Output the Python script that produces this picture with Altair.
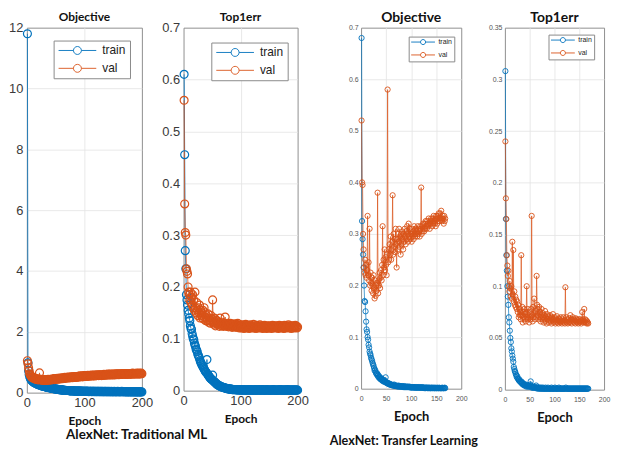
import altair as alt
import pandas as pd

# ---------------- data ----------------
series_names = ["train", "val"]
series_colors = ["#0072BD", "#D95319"]

# AlexNet: Traditional ML -- Objective
trad_obj_train = [
    11.8, 0.98, 0.72, 0.6, 0.52, 0.47, 0.44, 0.41, 0.39, 0.37,
    0.35, 0.34, 0.33, 0.32, 0.31, 0.3, 0.29, 0.28, 0.27, 0.26,
    0.26, 0.25, 0.24, 0.24, 0.23, 0.22, 0.22, 0.21, 0.21, 0.2,
    0.2, 0.19, 0.19, 0.18, 0.18, 0.17, 0.17, 0.16, 0.16, 0.16,
    0.15, 0.15, 0.14, 0.14, 0.14, 0.13, 0.13, 0.13, 0.12, 0.12,
    0.12, 0.11, 0.11, 0.11, 0.1, 0.1, 0.1, 0.1, 0.09, 0.09,
    0.09, 0.09, 0.08, 0.08, 0.08, 0.08, 0.08, 0.07, 0.07, 0.07,
    0.07, 0.07, 0.07, 0.06, 0.06, 0.06, 0.06, 0.06, 0.06, 0.06,
    0.06, 0.05, 0.05, 0.05, 0.05, 0.05, 0.05, 0.05, 0.05, 0.05,
    0.05, 0.05, 0.05, 0.04, 0.05, 0.04, 0.04, 0.05, 0.04, 0.04,
    0.04, 0.04, 0.04, 0.05, 0.04, 0.04, 0.04, 0.03, 0.04, 0.04,
    0.04, 0.04, 0.03, 0.04, 0.04, 0.04, 0.03, 0.04, 0.04, 0.03,
    0.04, 0.03, 0.04, 0.04, 0.03, 0.04, 0.03, 0.04, 0.03, 0.04,
    0.03, 0.04, 0.03, 0.03, 0.04, 0.03, 0.04, 0.03, 0.03, 0.04,
    0.03, 0.03, 0.04, 0.03, 0.03, 0.03, 0.04, 0.03, 0.03, 0.03,
    0.03, 0.04, 0.03, 0.03, 0.03, 0.03, 0.03, 0.04, 0.03, 0.03,
    0.03, 0.03, 0.03, 0.03, 0.04, 0.03, 0.03, 0.03, 0.03, 0.03,
    0.03, 0.03, 0.03, 0.02, 0.03, 0.03, 0.03, 0.03, 0.02, 0.03,
    0.03, 0.03, 0.02, 0.03, 0.03, 0.03, 0.02, 0.03, 0.03, 0.02,
    0.03, 0.03, 0.02, 0.03, 0.02, 0.03, 0.03, 0.02, 0.03, 0.02,
]
trad_obj_val = [
    1.05, 0.95, 0.82, 0.72, 0.62, 0.58, 0.55, 0.52, 0.5, 0.49,
    0.48, 0.5, 0.46, 0.47, 0.45, 0.44, 0.46, 0.43, 0.44, 0.42,
    0.45, 0.65, 0.43, 0.42, 0.44, 0.41, 0.43, 0.42, 0.4, 0.43,
    0.41, 0.42, 0.4, 0.43, 0.41, 0.42, 0.44, 0.41, 0.43, 0.42,
    0.44, 0.43, 0.42, 0.45, 0.43, 0.44, 0.46, 0.43, 0.45, 0.44,
    0.46, 0.45, 0.47, 0.44, 0.46, 0.47, 0.45, 0.48, 0.46, 0.47,
    0.48, 0.46, 0.49, 0.47, 0.48, 0.5, 0.47, 0.49, 0.48, 0.5,
    0.49, 0.51, 0.48, 0.5, 0.49, 0.51, 0.5, 0.52, 0.49, 0.51,
    0.52, 0.5, 0.53, 0.51, 0.52, 0.5, 0.53, 0.52, 0.54, 0.51,
    0.53, 0.55, 0.52, 0.54, 0.53, 0.55, 0.52, 0.54, 0.56, 0.53,
    0.55, 0.54, 0.56, 0.53, 0.55, 0.57, 0.54, 0.56, 0.55, 0.57,
    0.55, 0.56, 0.58, 0.55, 0.57, 0.56, 0.58, 0.55, 0.57, 0.58,
    0.56, 0.58, 0.57, 0.59, 0.56, 0.58, 0.57, 0.59, 0.58, 0.56,
    0.59, 0.57, 0.58, 0.6, 0.57, 0.59, 0.58, 0.6, 0.58, 0.59,
    0.61, 0.58, 0.6, 0.59, 0.61, 0.58, 0.6, 0.59, 0.61, 0.6,
    0.58, 0.61, 0.59, 0.6, 0.62, 0.59, 0.61, 0.6, 0.62, 0.59,
    0.61, 0.6, 0.62, 0.6, 0.61, 0.63, 0.6, 0.62, 0.61, 0.63,
    0.6, 0.62, 0.61, 0.63, 0.6, 0.62, 0.61, 0.63, 0.62, 0.6,
    0.63, 0.61, 0.62, 0.64, 0.61, 0.63, 0.62, 0.61, 0.63, 0.62,
    0.64, 0.61, 0.63, 0.62, 0.64, 0.61, 0.63, 0.62, 0.64, 0.62,
]

# AlexNet: Traditional ML -- Top1err
trad_err_train = [
    0.61, 0.455, 0.27, 0.235, 0.185, 0.175, 0.165, 0.155, 0.148, 0.14,
    0.135, 0.125, 0.12, 0.118, 0.11, 0.105, 0.1, 0.098, 0.092, 0.088,
    0.085, 0.08, 0.078, 0.075, 0.07, 0.068, 0.065, 0.062, 0.058, 0.055,
    0.053, 0.05, 0.048, 0.046, 0.044, 0.042, 0.04, 0.038, 0.036, 0.035,
    0.06, 0.032, 0.03, 0.029, 0.027, 0.026, 0.024, 0.023, 0.022, 0.021,
    0.03, 0.019, 0.018, 0.017, 0.016, 0.015, 0.014, 0.013, 0.012, 0.011,
    0.011, 0.01, 0.009, 0.009, 0.008, 0.008, 0.007, 0.007, 0.006, 0.006,
    0.006, 0.005, 0.005, 0.005, 0.004, 0.004, 0.004, 0.004, 0.003, 0.003,
    0.003, 0.003, 0.003, 0.003, 0.002, 0.002, 0.002, 0.002, 0.002, 0.002,
    0.002, 0.002, 0.001, 0.002, 0.002, 0.001, 0.002, 0.001, 0.002, 0.001,
    0.001, 0.002, 0.001, 0.001, 0.001, 0.002, 0.001, 0.001, 0.001, 0.001,
    0.001, 0.001, 0.002, 0.001, 0.001, 0.001, 0.001, 0.002, 0.001, 0.001,
    0.001, 0.001, 0.001, 0.001, 0.002, 0.001, 0.001, 0.001, 0.001, 0.001,
    0.002, 0.001, 0.001, 0.001, 0.001, 0.001, 0.001, 0.002, 0.001, 0.001,
    0.001, 0.001, 0.001, 0.001, 0.001, 0.002, 0.001, 0.001, 0.001, 0.001,
    0.001, 0.001, 0.001, 0.001, 0.001, 0.001, 0.002, 0.001, 0.001, 0.001,
    0.001, 0.001, 0.001, 0.001, 0.001, 0.001, 0.001, 0.001, 0.002, 0.001,
    0.001, 0.001, 0.001, 0.001, 0.001, 0.001, 0.001, 0.001, 0.001, 0.001,
    0.001, 0.002, 0.001, 0.001, 0.001, 0.001, 0.001, 0.001, 0.001, 0.001,
    0.001, 0.001, 0.001, 0.001, 0.001, 0.001, 0.001, 0.001, 0.001, 0.001,
]
trad_err_val = [
    0.56, 0.36, 0.305, 0.3, 0.235, 0.23, 0.225, 0.2, 0.19, 0.185,
    0.175, 0.19, 0.17, 0.18, 0.165, 0.185, 0.16, 0.175, 0.155, 0.19,
    0.16, 0.15, 0.17, 0.155, 0.145, 0.16, 0.15, 0.165, 0.14, 0.155,
    0.145, 0.15, 0.14, 0.155, 0.138, 0.16, 0.142, 0.15, 0.135, 0.145,
    0.14, 0.135, 0.148, 0.132, 0.14, 0.136, 0.13, 0.145, 0.134, 0.138,
    0.175, 0.133, 0.128, 0.14, 0.13, 0.125, 0.136, 0.13, 0.128, 0.134,
    0.128, 0.132, 0.124, 0.14, 0.126, 0.13, 0.125, 0.132, 0.127, 0.124,
    0.13, 0.126, 0.142, 0.125, 0.128, 0.124, 0.13, 0.126, 0.123, 0.128,
    0.125, 0.13, 0.124, 0.127, 0.122, 0.128, 0.125, 0.123, 0.129, 0.124,
    0.126, 0.122, 0.128, 0.124, 0.13, 0.123, 0.126, 0.121, 0.127, 0.124,
    0.125, 0.121, 0.127, 0.123, 0.126, 0.12, 0.125, 0.122, 0.128, 0.123,
    0.121, 0.126, 0.123, 0.125, 0.12, 0.124, 0.127, 0.122, 0.125, 0.121,
    0.124, 0.122, 0.128, 0.121, 0.125, 0.123, 0.12, 0.126, 0.122, 0.124,
    0.121, 0.125, 0.123, 0.127, 0.121, 0.124, 0.122, 0.125, 0.12, 0.124,
    0.122, 0.126, 0.121, 0.124, 0.123, 0.12, 0.125, 0.122, 0.124, 0.121,
    0.125, 0.122, 0.124, 0.12, 0.123, 0.126, 0.121, 0.124, 0.122, 0.125,
    0.121, 0.123, 0.125, 0.122, 0.124, 0.12, 0.123, 0.126, 0.121, 0.124,
    0.122, 0.125, 0.121, 0.123, 0.124, 0.12, 0.126, 0.122, 0.124, 0.121,
    0.123, 0.125, 0.122, 0.127, 0.121, 0.124, 0.122, 0.125, 0.12, 0.123,
    0.125, 0.122, 0.124, 0.121, 0.123, 0.126, 0.122, 0.124, 0.121, 0.123,
]

# AlexNet: Transfer Learning -- Objective
tl_obj_train = [
    0.68, 0.325, 0.29, 0.26, 0.235, 0.2, 0.17, 0.168, 0.15, 0.13,
    0.115, 0.11, 0.1, 0.095, 0.085, 0.08, 0.072, 0.068, 0.065, 0.06,
    0.057, 0.054, 0.05, 0.047, 0.044, 0.04, 0.035, 0.037, 0.033, 0.03,
    0.028, 0.03, 0.025, 0.027, 0.022, 0.024, 0.02, 0.022, 0.018, 0.02,
    0.017, 0.019, 0.015, 0.017, 0.014, 0.016, 0.013, 0.015, 0.022, 0.012,
    0.011, 0.012, 0.01, 0.011, 0.009, 0.01, 0.008, 0.009, 0.008, 0.007,
    0.008, 0.007, 0.006, 0.007, 0.006, 0.008, 0.006, 0.005, 0.006, 0.005,
    0.006, 0.005, 0.004, 0.005, 0.006, 0.004, 0.005, 0.004, 0.005, 0.004,
    0.004, 0.005, 0.004, 0.003, 0.004, 0.005, 0.003, 0.004, 0.003, 0.004,
    0.003, 0.004, 0.003, 0.004, 0.003, 0.003, 0.004, 0.003, 0.002, 0.003,
    0.003, 0.002, 0.003, 0.003, 0.002, 0.003, 0.002, 0.003, 0.002, 0.002,
    0.003, 0.002, 0.002, 0.003, 0.002, 0.002, 0.003, 0.002, 0.002, 0.002,
    0.002, 0.003, 0.002, 0.002, 0.002, 0.001, 0.002, 0.002, 0.001, 0.002,
    0.002, 0.001, 0.002, 0.001, 0.002, 0.001, 0.002, 0.001, 0.001, 0.002,
    0.001, 0.002, 0.001, 0.001, 0.002, 0.001, 0.001, 0.002, 0.001, 0.001,
    0.001, 0.002, 0.001, 0.001, 0.001, 0.002, 0.001, 0.001, 0.001, 0.001,
    0.001, 0.002, 0.001, 0.001, 0.001, 0.001, 0.002, 0.001,
]
tl_obj_val = [
    0.52, 0.40, 0.395, 0.30, 0.27, 0.235, 0.225, 0.25, 0.22, 0.24,
    0.215, 0.23, 0.335, 0.22, 0.245, 0.21, 0.31, 0.2, 0.225, 0.205,
    0.19, 0.215, 0.2, 0.185, 0.22, 0.195, 0.175, 0.21, 0.18, 0.2,
    0.19, 0.205, 0.38, 0.185, 0.21, 0.2, 0.225, 0.195, 0.215, 0.23,
    0.21, 0.24, 0.315, 0.22, 0.25, 0.235, 0.27, 0.23, 0.255, 0.24,
    0.22, 0.26, 0.58, 0.245, 0.27, 0.25, 0.28, 0.26, 0.295, 0.25,
    0.27, 0.285, 0.375, 0.26, 0.3, 0.275, 0.29, 0.265, 0.31, 0.28,
    0.235, 0.29, 0.27, 0.3, 0.285, 0.31, 0.275, 0.295, 0.26, 0.3,
    0.28, 0.305, 0.29, 0.27, 0.3, 0.285, 0.31, 0.295, 0.28, 0.305,
    0.29, 0.315, 0.3, 0.285, 0.32, 0.295, 0.31, 0.29, 0.305, 0.3,
    0.285, 0.31, 0.295, 0.305, 0.29, 0.315, 0.3, 0.295, 0.31, 0.3,
    0.305, 0.295, 0.315, 0.3, 0.31, 0.305, 0.295, 0.315, 0.31, 0.39,
    0.3, 0.315, 0.305, 0.32, 0.31, 0.305, 0.32, 0.31, 0.325, 0.315,
    0.31, 0.325, 0.32, 0.315, 0.33, 0.32, 0.31, 0.325, 0.32, 0.33,
    0.325, 0.315, 0.33, 0.32, 0.335, 0.325, 0.32, 0.33, 0.315, 0.335,
    0.33, 0.32, 0.335, 0.325, 0.34, 0.33, 0.325, 0.34, 0.33, 0.345,
    0.33, 0.325, 0.335, 0.33, 0.32, 0.335, 0.325, 0.33,
]

# AlexNet: Transfer Learning -- Top1err
tl_err_train = [
    0.308, 0.165, 0.13, 0.115, 0.1, 0.09, 0.082, 0.07, 0.065, 0.057,
    0.05, 0.046, 0.04, 0.037, 0.033, 0.03, 0.027, 0.022, 0.02, 0.018,
    0.017, 0.015, 0.014, 0.012, 0.013, 0.011, 0.01, 0.009, 0.01, 0.008,
    0.008, 0.007, 0.008, 0.006, 0.007, 0.005, 0.006, 0.005, 0.004, 0.005,
    0.004, 0.005, 0.003, 0.004, 0.004, 0.003, 0.004, 0.003, 0.004, 0.003,
    0.005, 0.008, 0.003, 0.002, 0.003, 0.002, 0.003, 0.002, 0.002, 0.003,
    0.002, 0.002, 0.004, 0.002, 0.001, 0.002, 0.002, 0.001, 0.002, 0.001,
    0.002, 0.001, 0.001, 0.002, 0.001, 0.001, 0.002, 0.001, 0.001, 0.001,
    0.001, 0.002, 0.001, 0.001, 0.001, 0.001, 0.002, 0.001, 0.001, 0.001,
    0.001, 0.001, 0.001, 0.002, 0.001, 0.001, 0.001, 0.001, 0.001, 0.001,
    0.002, 0.001, 0.001, 0.001, 0.001, 0.001, 0.001, 0.001, 0.002, 0.001,
    0.001, 0.001, 0.001, 0.001, 0.001, 0.001, 0.001, 0.001, 0.001, 0.001,
    0.001, 0.001, 0.002, 0.001, 0.001, 0.001, 0.001, 0.001, 0.001, 0.001,
    0.001, 0.001, 0.001, 0.001, 0.001, 0.001, 0.001, 0.001, 0.001, 0.001,
    0.001, 0.001, 0.001, 0.001, 0.001, 0.001, 0.001, 0.001, 0.001, 0.001,
    0.001, 0.001, 0.001, 0.001, 0.001, 0.001, 0.001, 0.001, 0.001, 0.001,
    0.001, 0.001, 0.001, 0.001, 0.001, 0.001, 0.001, 0.001,
]
tl_err_val = [
    0.24, 0.185, 0.165, 0.13, 0.12, 0.11, 0.115, 0.1, 0.095, 0.105,
    0.098, 0.09, 0.1, 0.088, 0.143, 0.092, 0.135, 0.085, 0.095, 0.082,
    0.09, 0.08, 0.087, 0.078, 0.085, 0.075, 0.082, 0.07, 0.078, 0.072,
    0.075, 0.068, 0.13, 0.072, 0.08, 0.065, 0.075, 0.07, 0.078, 0.068,
    0.073, 0.066, 0.075, 0.1, 0.07, 0.078, 0.068, 0.072, 0.065, 0.075,
    0.07, 0.068, 0.078, 0.168, 0.072, 0.066, 0.08, 0.07, 0.088, 0.074,
    0.068, 0.076, 0.07, 0.11, 0.082, 0.072, 0.078, 0.068, 0.08, 0.07,
    0.075, 0.066, 0.072, 0.078, 0.068, 0.074, 0.07, 0.065, 0.072, 0.068,
    0.076, 0.066, 0.07, 0.064, 0.073, 0.068, 0.071, 0.065, 0.07, 0.067,
    0.072, 0.066, 0.069, 0.064, 0.07, 0.067, 0.073, 0.065, 0.068, 0.066,
    0.07, 0.064, 0.068, 0.066, 0.071, 0.065, 0.067, 0.064, 0.069, 0.066,
    0.068, 0.065, 0.07, 0.066, 0.064, 0.068, 0.066, 0.07, 0.065, 0.067,
    0.064, 0.099, 0.066, 0.07, 0.065, 0.068, 0.064, 0.067, 0.065, 0.069,
    0.066, 0.072, 0.065, 0.068, 0.064, 0.067, 0.07, 0.066, 0.068, 0.065,
    0.067, 0.064, 0.069, 0.066, 0.068, 0.065, 0.067, 0.064, 0.068, 0.066,
    0.065, 0.068, 0.066, 0.064, 0.067, 0.075, 0.066, 0.068, 0.065, 0.078,
    0.066, 0.068, 0.065, 0.067, 0.064, 0.066, 0.065, 0.064,
]

x_ticks_trad = [0, 100, 200]
x_ticks_tl = [0, 50, 100, 150, 200]
y_ticks_obj_trad = [0, 2, 4, 6, 8, 10, 12]
y_ticks_err_trad = [0, 0.1, 0.2, 0.3, 0.4, 0.5, 0.6, 0.7]
y_ticks_obj_tl = [0, 0.1, 0.2, 0.3, 0.4, 0.5, 0.6, 0.7]
y_ticks_err_tl = [0, 0.05, 0.1, 0.15, 0.2, 0.25, 0.3, 0.35]

# ---------------- helpers ----------------
# legend glyph: line - open circle - line (MATLAB style)
LEGEND_PATH_TRAD = ("M-3.8,0H-0.8M0.8,0H3.8"
                    "M-0.8,0A0.8,0.8,0,1,1,0.8,0A0.8,0.8,0,1,1,-0.8,0")
LEGEND_PATH_TL = ("M-4,0H-0.85M0.85,0H4"
                  "M-0.85,0A0.85,0.85,0,1,1,0.85,0A0.85,0.85,0,1,1,-0.85,0")


def long_df(train, val):
    rows = []
    for i, v in enumerate(train):
        rows.append({"epoch": i + 1, "value": v, "series": "train"})
    for i, v in enumerate(val):
        rows.append({"epoch": i + 1, "value": v, "series": "val"})
    return pd.DataFrame(rows)


def edge_hidden(lo, hi):
    return {"condition": {"test": f"datum.value <= {lo} || datum.value >= {hi} - 1e-9",
                          "value": 0}, "value": 1}


def panel(train, val, title, ymax, yticks, xticks, w, h, s):
    df = long_df(train, val)
    legend = alt.Legend(
        title=None, orient="none", legendX=s["lx"], legendY=s["ly"],
        fillColor="white", strokeColor="#8a8a8a", padding=s["lpad"],
        labelFont="Liberation Sans", labelFontSize=s["lfs"], labelColor="#222",
        labelExpr="datum.label + '" + s["lspace"] + "'",
        symbolType=s["lpath"], symbolSize=s["lsym"], symbolStrokeWidth=0.9,
        symbolOffset=s["soff"], labelOffset=s["loff"], rowPadding=s["lrow"],
    )
    color = alt.Color("series:N",
                      scale=alt.Scale(domain=series_names, range=series_colors),
                      legend=legend)
    x = alt.X("epoch:Q", scale=alt.Scale(domain=[0, 200], nice=False),
              axis=alt.Axis(values=xticks, title="Epoch", format="d",
                            labelFont="Liberation Sans", labelFontSize=s["afs"],
                            labelColor=s["acol"], labelFlush=False,
                            labelPadding=s["xlp"], ticks=False, domain=False,
                            grid=True, gridColor="#e3e3e3", gridWidth=0.8,
                            gridOpacity=edge_hidden(0, 200),
                            titleFont="Lato", titleFontWeight="bold",
                            titleFontSize=s["xtfs"], titleColor="#111",
                            titlePadding=s["xtp"]))
    y = alt.Y("value:Q", scale=alt.Scale(domain=[0, ymax], nice=False, zero=True),
              axis=alt.Axis(values=yticks, title=None, format="~g",
                            labelFont="Liberation Sans", labelFontSize=s["afs"],
                            labelColor=s["acol"], labelPadding=s["ylp"],
                            ticks=False, domain=False, grid=True,
                            gridColor="#e3e3e3", gridWidth=0.8,
                            gridOpacity=edge_hidden(0, ymax)))
    base = alt.Chart(df)
    line = base.mark_line(strokeWidth=s["lw"]).encode(x=x, y=y, color=color)
    pts = base.mark_point(filled=False, size=s["ms"], strokeWidth=s["msw"],
                          opacity=1).encode(x=x, y=y, color=color)
    return alt.layer(line, pts).properties(
        width=w, height=h,
        title=alt.Title(title, font="Lato", fontWeight="bold",
                        fontSize=s["tfs"], color="#111", offset=s["toff"]),
    )


trad_style = dict(lx=27, ly=13, lpad=4, lfs=12, lspace="          ", lsym=100,
                  lpath=LEGEND_PATH_TRAD, soff=14, loff=19, lrow=6,
                  afs=13, acol="#3a3a3a", xlp=4, ylp=4, xtfs=12,
                  xtp=6, lw=0.8, ms=64, msw=1.2, tfs=12, toff=-2)
tl_style = dict(lx=48, ly=9, lpad=2, lfs=7, lspace="       ", lsym=36,
                lpath=LEGEND_PATH_TL, soff=9, loff=12, lrow=4,
                afs=7, acol="#555", xlp=6, ylp=3, xtfs=13,
                xtp=9, lw=0.7, ms=28, msw=0.9, tfs=14, toff=-1)

p1 = panel(trad_obj_train, trad_obj_val, "Objective", 12, y_ticks_obj_trad,
           x_ticks_trad, 116, 368, trad_style)
p2 = panel(trad_err_train, trad_err_val, "Top1err", 0.7, y_ticks_err_trad,
           x_ticks_trad, 115, 366, dict(trad_style, lx=28, ly=15, lspace="    "))
p3 = panel(tl_obj_train, tl_obj_val, "Objective", 0.7, y_ticks_obj_tl,
           x_ticks_tl, 101, 364, tl_style)
p4 = panel(tl_err_train, tl_err_val, "Top1err", 0.35, y_ticks_err_tl,
           x_ticks_tl, 100, 365, dict(tl_style, lx=44, ly=7, lspace="     "))

left = alt.hconcat(p1, p2, spacing=7, title=alt.Title(
    "AlexNet: Traditional ML", orient="bottom", anchor="middle", font="Lato",
    fontWeight="bold", fontSize=13.5, color="#111", offset=1, dx=-22)
).resolve_scale(x="independent", y="independent", color="independent")

right = alt.hconcat(p3, p4, spacing=19, title=alt.Title(
    "AlexNet: Transfer Learning", orient="bottom", anchor="middle", font="Lato",
    fontWeight="bold", fontSize=12.7, color="#111", offset=10, dx=-76)
).resolve_scale(x="independent", y="independent", color="independent")

chart = alt.hconcat(left, right, spacing=19).resolve_scale(
    x="independent", y="independent", color="independent"
).properties(padding={"left": 0, "top": 0, "right": 0, "bottom": 0}
).configure(background="white"
).configure_view(stroke="#8f8f8f", strokeWidth=1)

chart.save("out.html", embed_options={"renderer": "svg", "actions": False})
